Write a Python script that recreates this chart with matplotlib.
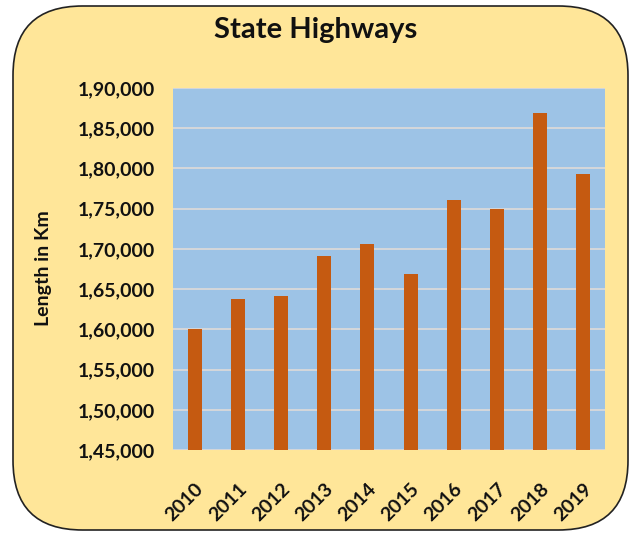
import matplotlib
matplotlib.use("Agg")
import matplotlib.pyplot as plt
from matplotlib.patches import FancyBboxPatch
from matplotlib.ticker import FuncFormatter, MultipleLocator

years = ["2010", "2011", "2012", "2013", "2014", "2015", "2016", "2017", "2018", "2019"]
length_km = [160100, 163800, 164100, 169100, 170600, 166900, 176100, 174900, 186900, 179350]

BOX = "#FFE699"; PLOT_BG = "#9DC3E6"; BAR = "#C55A11"; GRID = "#D9D9D9"
FONT = ["Lato", "DejaVu Sans"]

def indian(v, pos=None):
    s = str(int(round(v)))
    if len(s) <= 3:
        return s
    head, tail = s[:-3], s[-3:]
    parts = []
    while len(head) > 2:
        parts.insert(0, head[-2:]); head = head[:-2]
    if head:
        parts.insert(0, head)
    return ",".join(parts) + "," + tail

fig = plt.figure(figsize=(6.32, 5.36), dpi=100)
fig.patch.set_facecolor("white")
box = FancyBboxPatch((13 / 632, 6 / 536), 615 / 632, 524 / 536,
                     boxstyle="round,pad=0,rounding_size=0.11",
                     transform=fig.transFigure, facecolor=BOX,
                     edgecolor="#222222", lw=1.2, mutation_aspect=632 / 536, zorder=-5)
fig.patches.append(box)

ax = fig.add_axes([173 / 632, 1 - 450 / 536, 432 / 632, 362 / 536])
ax.set_facecolor(PLOT_BG)
ax.bar(years, length_km, width=0.32, color=BAR, zorder=3)
ax.set_ylim(145000, 190000)
ax.set_xlim(-0.5, len(years) - 0.5)
ax.yaxis.set_major_locator(MultipleLocator(5000))
ax.yaxis.set_major_formatter(FuncFormatter(indian))
ax.grid(True, axis="y", color=GRID, lw=1.3, zorder=1)
for s in ax.spines.values():
    s.set_visible(False)
ax.tick_params(axis="y", length=0, pad=13)
ax.tick_params(axis="x", length=0, pad=22)
for lab in ax.get_yticklabels():
    lab.set_fontfamily(FONT); lab.set_fontweight("bold"); lab.set_fontsize(14); lab.set_color("#111111")
for lab in ax.get_xticklabels():
    lab.set_fontfamily(FONT); lab.set_fontweight("bold"); lab.set_fontsize(14); lab.set_color("#111111")
    lab.set_rotation(45); lab.set_ha("right"); lab.set_rotation_mode("anchor")
ax.set_ylabel("Length in Km", fontfamily=FONT, fontweight="bold", fontsize=14, color="#111111")
ax.yaxis.set_label_coords(43 / 632, 0.5, transform=fig.transFigure)
ax.yaxis.label.set_va("center")

fig.text(0.5, 1 - 30 / 536, "State Highways", ha="center", va="center",
         fontfamily=FONT, fontweight="bold", fontsize=21, color="#111111")

fig.savefig("out.png", dpi=100, facecolor="white")
